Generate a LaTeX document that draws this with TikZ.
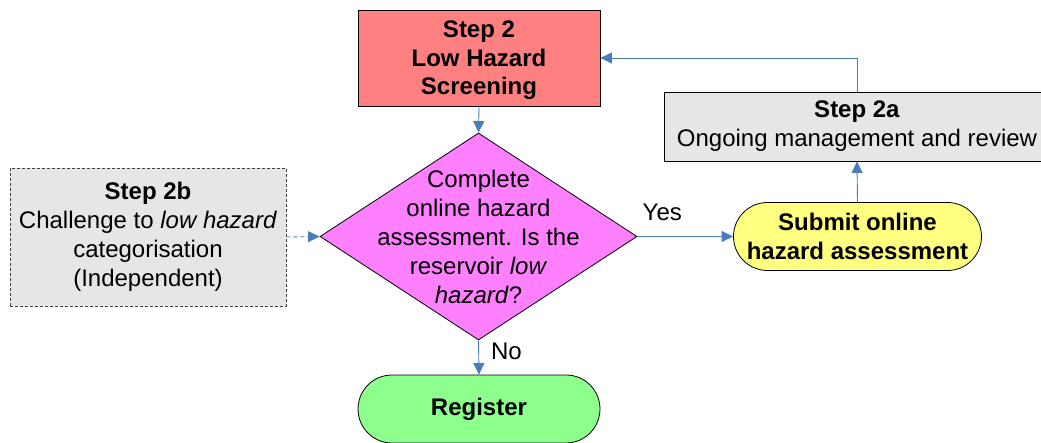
\documentclass[tikz,border=0pt]{standalone}
\usepackage{fontspec}
\setmainfont{Liberation Sans}
\usetikzlibrary{shapes.geometric,arrows.meta}

\definecolor{flowblue}{HTML}{4A7EBB}
\definecolor{screenred}{HTML}{FF8080}
\definecolor{decisionpink}{HTML}{FF80FF}
\definecolor{submityellow}{HTML}{FFFF80}
\definecolor{registergreen}{HTML}{8CFF8C}
\definecolor{panelgray}{HTML}{E6E6E6}

\begin{document}
\begin{tikzpicture}[x=1pt,y=-1pt,
  every node/.style={font=\fontsize{24}{29}\selectfont, align=center, inner sep=0pt},
  boldtext/.style={font=\fontsize{24}{28.5}\selectfont\bfseries},
  stepbox/.style={draw=black, line width=0.8pt, rectangle},
  terminal/.style={draw=black, line width=0.8pt, rectangle, rounded corners=34pt,
    minimum height=68pt, boldtext},
  link/.style={draw=flowblue, line width=0.9pt, -{Triangle[length=11.5pt,width=11pt]}},
  dashlink/.style={link, dash pattern=on 4pt off 3pt},
]
\useasboundingbox (0,0) rectangle (1041,443);

% Step 2: screening box
\node[stepbox, boldtext, fill=screenred, minimum width=242pt, minimum height=96pt,
  text depth=0pt] (screen) at (479,58) {Step 2\\Low Hazard\\Screening\vphantom{X}};

% Decision diamond and its question
\node[diamond, draw=black, line width=0.8pt, fill=decisionpink,
  minimum width=317pt, minimum height=207pt] (dec) at (478.5,236.5) {};
\node (question) at (478.5,237) {Complete\\online hazard\\assessment. Is the\\reservoir \textit{low}\\\textit{hazard}?};

% Step 2b: independent challenge
\node[stepbox, dash pattern=on 3pt off 2pt, draw=black!75, fill=panelgray,
  minimum width=276pt, minimum height=138pt] (challenge) at (148,237)
  {\textbf{Step 2b}\\Challenge to \textit{low hazard}\\categorisation\\(Independent)};

% Step 2a: ongoing management
\node[stepbox, fill=panelgray, minimum width=385pt, minimum height=69pt]
  (review) at (857,126.5) {\textbf{Step 2a}\\Ongoing management and review};

% Terminals
\node[terminal, fill=submityellow, minimum width=248pt] (submit) at (857.5,236.5)
  {Submit online\\hazard assessment};
\node[terminal, fill=registergreen, minimum width=242pt] (register) at (479,409)
  {Register};

% Connectors
\draw[link] (screen.south) -- (dec.north);
\draw[dashlink] (challenge.east) -- (dec.west);
\draw[link] (dec.east) -- node[pos=0.26, above=15pt, anchor=south] {Yes} (submit.west);
\draw[link] (dec.south) -- node[pos=0.33, right=12pt, anchor=west] {No} (register.north);
\draw[link] (submit.north) -- (review.south);
\draw[link] (review.north) -- (review.north |- screen.east) -- (screen.east);
\end{tikzpicture}
\end{document}
